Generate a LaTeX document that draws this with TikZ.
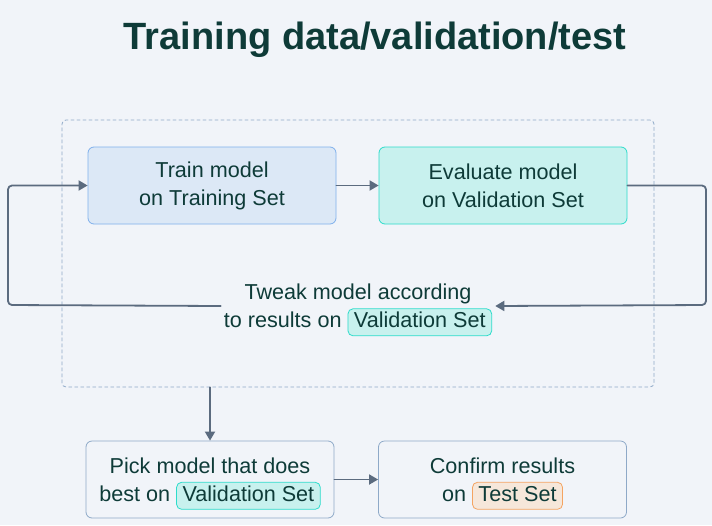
\documentclass[tikz,border=0pt]{standalone}
\usepackage{fontspec}
\setmainfont{Liberation Sans}
\usetikzlibrary{arrows.meta}

\definecolor{bgcol}{HTML}{F1F4F9}
\definecolor{inkcol}{HTML}{0E3B38}
\definecolor{arrowcol}{HTML}{5B6B7F}
\definecolor{framecol}{HTML}{8EA9C8}
\definecolor{trainfill}{HTML}{DCE8F6}
\definecolor{traindraw}{HTML}{7FB0EC}
\definecolor{valfill}{HTML}{C8F1EE}
\definecolor{valdraw}{HTML}{2DDCCB}
\definecolor{testfill}{HTML}{F6E7DA}
\definecolor{testdraw}{HTML}{F4A462}

% inline highlighted tag
\newcommand\hltag[3]{\tikz[baseline=(t.base)]\node[rounded corners=5pt,line width=0.8pt,
    minimum width=0pt,minimum height=0pt,
    fill=#1,draw=#2,inner xsep=6pt,inner ysep=4pt,text height=15pt,text depth=4pt] (t) {#3};}
% strut that balances a line with a tag
\newcommand\tagstrut{\rule{0pt}{24pt}}

\begin{document}
\begin{tikzpicture}[
    x=1pt,
    y=-1pt,
    line cap=round,
    line join=round,
    every node/.style={
        text=inkcol,
        font=\fontsize{21.6}{28}\selectfont
    },
    box/.style={
        rounded corners=6pt,
        line width=0.8pt,
        minimum width=248pt,
        minimum height=77pt,
        align=center
    },
    frame/.style={
        draw=framecol,
        line width=0.8pt,
        dash pattern=on 3pt off 3pt,
        rounded corners=4pt,
        minimum width=592pt,
        minimum height=267pt
    },
    arrow/.style={
        draw=arrowcol,
        line width=1.8pt,
        rounded corners=4pt,
        -{Triangle[length=9pt,width=10pt]}
    }
]

% =================================================
% Фон и заголовок
% =================================================

\fill[bgcol] (0,0) rectangle (712,525);
\useasboundingbox (0,0) rectangle (712,525);

\node[font=\fontsize{38}{44}\selectfont\bfseries] (title) at (375,40)
    {Training data/validation/test};

% =================================================
% Цикл обучения
% =================================================

\node[frame] (frame) at (358,253.5) {};

\node[box,fill=trainfill,draw=traindraw] (train) at (212,185.5)
    {Train model\\on Training Set};
\node[box,fill=valfill,draw=valdraw] (eval) at (503,185.5)
    {Evaluate model\\on Validation Set};

\node[align=center,inner xsep=3pt,inner ysep=0pt] (tweak) at (358,306)
    {\tagstrut Tweak model according\\to results on \hltag{valfill}{valdraw}{Validation Set}};

\coordinate (loopR) at (706,305);
\coordinate (loopL) at (8,305);

\draw[arrow] (train) -- (eval);
\draw[arrow] (eval.east) -| (loopR) -- (tweak.east);
\draw[arrow] (tweak.west) -- (loopL) |- (train.west);

% =================================================
% Выбор и проверка модели
% =================================================

\node[box,fill=bgcol,draw=framecol] (pick) at (210,479.5)
    {\tagstrut Pick model that does\\best on \hltag{valfill}{valdraw}{Validation Set}};
\node[box,fill=bgcol,draw=framecol] (confirm) at (502.5,479.5)
    {\tagstrut Confirm results\\on \hltag{testfill}{testdraw}{Test Set}};

\draw[arrow] (pick.north |- frame.south) -- (pick.north);
\draw[arrow] (pick) -- (confirm);

\end{tikzpicture}
\end{document}
